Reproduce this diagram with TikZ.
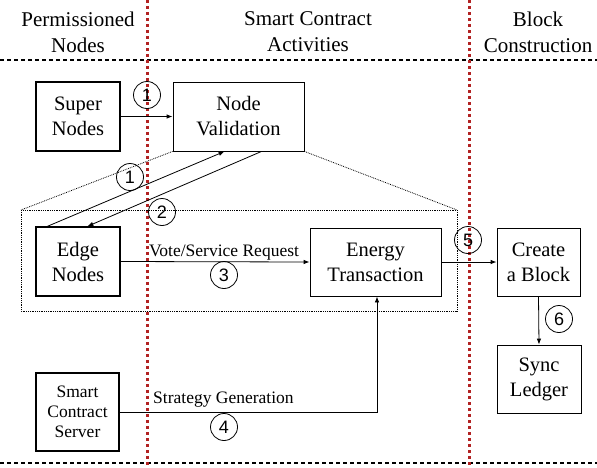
\documentclass[tikz,border=0pt]{standalone}
\usepackage{fontspec}
\setmainfont{Liberation Serif}
\newfontfamily\numfont{Liberation Sans}
\usepackage{tikz}
\usetikzlibrary{arrows.meta, calc}
\definecolor{laneRed}{RGB}{178, 34, 34}

\begin{document}
\begin{tikzpicture}[x=1pt, y=-1pt,
    box/.style={draw, line width=0.8pt, align=center, inner sep=0pt, font=\fontsize{20.5}{25}\selectfont},
    boldbox/.style={box, line width=1.3pt},
    numcirc/.style={draw, circle, line width=0.8pt, inner sep=0pt, minimum size=27pt, font=\numfont\fontsize{18}{18}\selectfont},
    lbl/.style={font=\fontsize{17.5}{20}\selectfont, inner sep=0pt},
    head/.style={align=center, font=\fontsize{21}{26}\selectfont, inner sep=0pt},
    flow/.style={-{Latex[length=6pt,width=4.5pt]}, line width=0.8pt},
    zoomline/.style={densely dotted, line width=0.8pt},
    laneline/.style={line width=1.3pt, dash pattern=on 4pt off 3pt}]
    \useasboundingbox (0,0) rectangle (597,467);

    % Column headers
    \node[head] (hperm) at (78,32) {Permissioned\\Nodes};
    \node[head] (hsmart) at (308,32) {Smart Contract\\Activities};
    \node[head] (hblock) at (538,32) {Block\\Construction};

    % Lanes
    \draw[laneline] (0,60) -- (597,60);
    \draw[laneline] (0,463) -- (597,463);
    \draw[laneRed, line width=3pt, dash pattern=on 3pt off 3pt] (147,0) -- (147,467);
    \draw[laneRed, line width=3pt, dash pattern=on 3pt off 3pt] (469,0) -- (469,467);

    % Boxes
    \node[boldbox, minimum width=84, minimum height=69] (super) at (78,116.5) {Super\\Nodes};
    \node[box, minimum width=131, minimum height=69] (valid) at (238.5,116.5) {Node\\Validation};
    \node[boldbox, minimum width=84, minimum height=69] (edge) at (78,261.5) {Edge\\Nodes};
    \node[box, minimum width=131, minimum height=68] (energy) at (375.5,262) {Energy\\Transaction};
    \node[box, minimum width=83, minimum height=68] (block) at (538.5,262) {Create\\a Block};
    \node[box, minimum width=84, minimum height=68] (sync) at (539,379) {Sync\\Ledger};
    \node[boldbox, minimum width=83, minimum height=78, font=\fontsize{17.5}{20}\selectfont] (server) at (77.5,412) {Smart\\Contract\\Server};

    % Zoomed region
    \coordinate (zoomtl) at (21,210);
    \coordinate (zoomtr) at (457,210);
    \coordinate (zoombr) at (457,311);
    \draw[zoomline] (zoomtl) rectangle (zoombr);
    \draw[zoomline] (valid.south west) -- (zoomtl);
    \draw[zoomline] (valid.south east) -- (zoomtr);

    % Flows
    \draw[flow] (super.east) -- (valid.west);
    \draw[flow] ([xshift=12]edge.north west) -- ([xshift=52]valid.south west);
    \draw[flow] ([xshift=89]valid.south west) -- ([xshift=52]edge.north west);
    \draw[flow] (edge.east) -- (energy.west);
    \draw[flow] (energy.east) -- (block.west);
    \draw[flow] (block.south) -- (sync.north);
    \draw[flow] (server.east) -| ([xshift=1.5]energy.south);

    % Labels
    \node[lbl, anchor=base] (votelbl) at (224,256) {Vote/Service Request};
    \node[lbl, anchor=base west] (stratlbl) at (153,403) {Strategy Generation};

    % Step numbers
    \node[numcirc] (n1a) at (147,95) {1};
    \node[numcirc] (n1b) at (130,177) {1};
    \node[numcirc] (n2) at (162,212) {2};
    \node[numcirc] (n3) at (224,275) {3};
    \node[numcirc] (n4) at (224,427) {4};
    \node[numcirc] (n5) at (468,240) {5};
    \node[numcirc] (n6) at (559,319) {6};
\end{tikzpicture}
\end{document}
